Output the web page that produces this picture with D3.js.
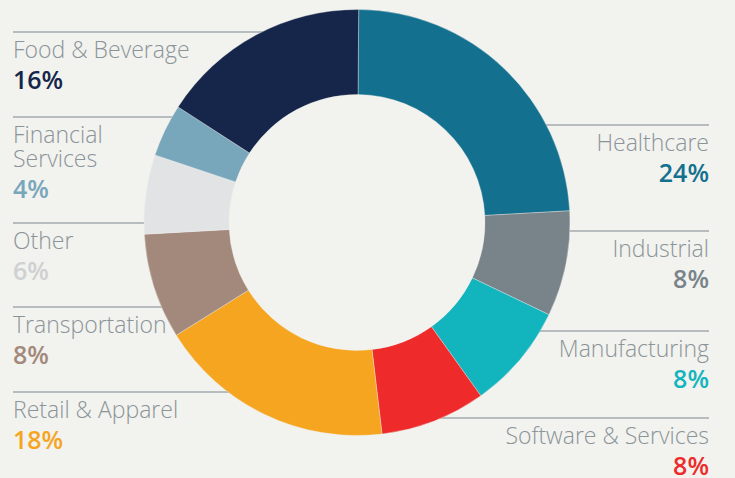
<!DOCTYPE html>
<html>
<head>
<meta charset="utf-8">
<script src="https://cdn.jsdelivr.net/npm/d3@7"></script>
<style>
  body { margin: 0; background: #f2f2ee; }
  svg { display: block; }
</style>
</head>
<body>
<div id="chart"></div>
<script>
const w = 735;
const h = 478;

// data, clockwise from 12 o'clock
const sectors = ["Healthcare", "Industrial", "Manufacturing", "Software & Services",
                 "Retail & Apparel", "Transportation", "Other", "Financial Services", "Food & Beverage"];
const shares = [24, 8, 8, 8, 18, 8, 6, 4, 16];
const fills = ["#13708f", "#78838a", "#12b5bd", "#ee2a2b", "#f5a51f", "#a3897b", "#e2e3e5", "#78a6bb", "#15264a"];
const pctColors = ["#13708f", "#78838a", "#12b5bd", "#ee2a2b", "#f5a51f", "#a3897b", "#cfd0d1", "#78a6bb", "#15264a"];

// which side each label sits on, and the y of its rule line
const side = ["right", "right", "right", "right", "left", "left", "left", "left", "left"];
const ruleY = [125, 231, 331, 418, 392, 307, 223, 117, 32];

const cx = 357, cy = 222.5;
const rOuter = 213, rInner = 128;

//------------------------------------------svg----------------------------------------------
const svg = d3.select("#chart")
  .append("svg")
    .attr("width", w)
    .attr("height", h)
    .style("background", "#f2f2ee");

const data = sectors.map((s, i) => ({
  name: s, value: shares[i], fill: fills[i], pct: pctColors[i], side: side[i], y: ruleY[i]
}));

// x where a rule line meets the outer edge of the ring
function edgeX(d) {
  const dy = d.y - cy;
  const dx = Math.sqrt(Math.max(0, rOuter * rOuter - dy * dy));
  return d.side == "left" ? cx - dx + 2 : cx + dx - 2;
}

//------------------------------------------rule lines--------------------------------------
svg.selectAll("line.rule")
  .data(data)
  .enter()
  .append("line")
    .attr("class", "rule")
    .attr("x1", d => d.side == "left" ? 13 : edgeX(d))
    .attr("x2", d => d.side == "left" ? edgeX(d) : 709)
    .attr("y1", d => d.y)
    .attr("y2", d => d.y)
    .attr("stroke", "#a3abae")
    .attr("stroke-width", 1.3);

//------------------------------------------donut--------------------------------------------
const pie = d3.pie()
  .value(d => d.value)
  .sort(null)
  .startAngle(0.008)
  .endAngle(Math.PI * 2 + 0.008);

const arc = d3.arc()
  .innerRadius(rInner)
  .outerRadius(rOuter);

svg.append("g")
  .attr("transform", "translate(" + cx + "," + cy + ")")
  .selectAll("path")
  .data(pie(data))
  .enter()
  .append("path")
    .attr("d", arc)
    .attr("fill", d => d.data.fill)
    .attr("stroke", "rgba(242,242,238,0.6)")
    .attr("stroke-width", 0.6);

//------------------------------------------labels-------------------------------------------
const labels = svg.selectAll("g.label")
  .data(data)
  .enter()
  .append("g")
    .attr("class", "label");

labels.each(function(d) {
  const g = d3.select(this);
  const x = d.side == "left" ? 13 : 709;
  const anchor = d.side == "left" ? "start" : "end";
  // "Financial Services" breaks onto two lines in the picture
  const lines = d.name == "Financial Services" ? ["Financial", "Services"] : [d.name];
  lines.forEach((t, k) => {
    g.append("text")
      .attr("x", x)
      .attr("y", d.y + 26 + k * 24)
      .attr("text-anchor", anchor)
      .style("font-family", "'Open Sans', sans-serif")
      .style("font-weight", 300)
      .style("font-size", "23px")
      .style("fill", "#8a9499")
      .text(t);
  });
  g.append("text")
    .attr("x", x)
    .attr("y", d.y + 57 + (lines.length - 1) * 24)
    .attr("text-anchor", anchor)
    .style("font-family", "'Open Sans', sans-serif")
    .style("font-weight", 600)
    .style("font-size", "25px")
    .style("fill", d.pct)
    .text(d.value + "%");
});
</script>
</body>
</html>
